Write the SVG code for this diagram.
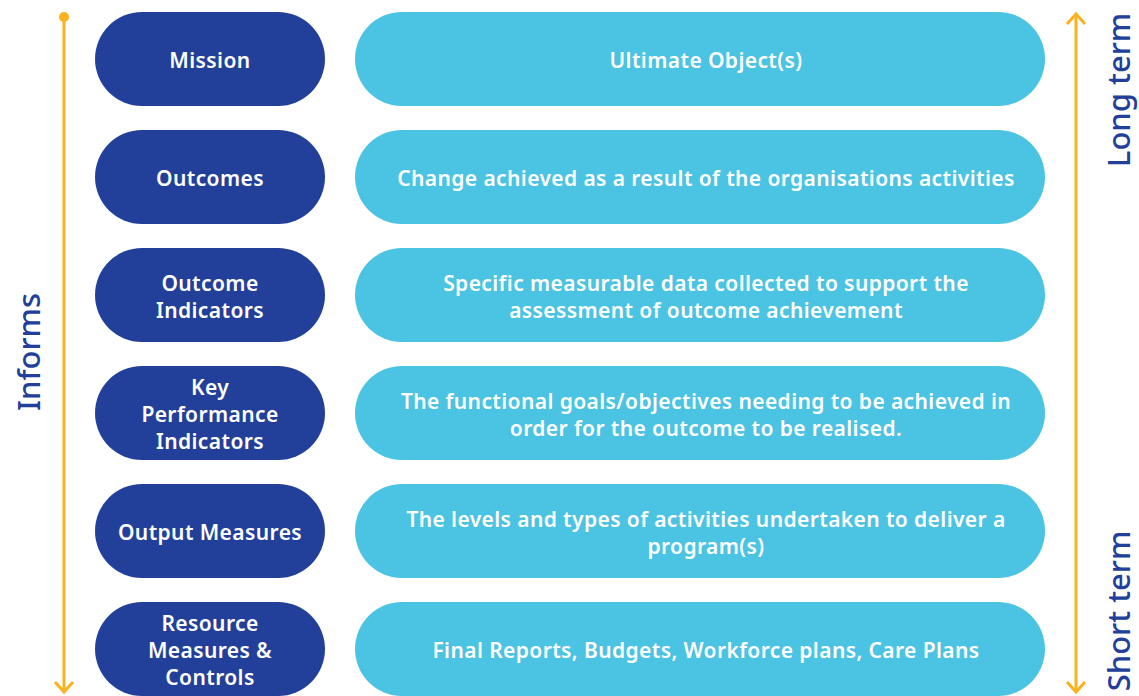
<svg xmlns="http://www.w3.org/2000/svg" width="1139" height="696" viewBox="0 0 1139 696">
<defs>
<style>
.l{fill:#22409A}
.r{fill:#4BC3E2}
.t{font-family:"Noto Sans","Liberation Sans",sans-serif;font-weight:600;font-size:21px;letter-spacing:0.4px;fill:#fff;text-anchor:middle;dominant-baseline:central}
.side{font-family:"Noto Sans","Liberation Sans",sans-serif;font-weight:500;font-size:31px;fill:#22409A;text-anchor:middle;dominant-baseline:central}
.ax{stroke:#FBB21F;stroke-width:3;fill:none}
</style>
</defs>
<rect width="1139" height="696" fill="#fff"/>
<g id="connectors">
<circle cx="64" cy="17" r="5" fill="#FBB21F"/>
<line class="ax" x1="64" y1="17" x2="64" y2="692"/>
<polyline class="ax" points="55,682 64,692 73,682"/>
<line class="ax" x1="1076" y1="14" x2="1076" y2="692"/>
<polyline class="ax" points="1067,24 1076,14 1085,24"/>
<polyline class="ax" points="1067,682 1076,692 1085,682"/>
</g>
<g id="informs"><text class="side" transform="translate(28,352) rotate(-90)">Informs</text></g>
<g id="longterm"><text class="side" transform="translate(1118,90) rotate(-90)">Long term</text></g>
<g id="shortterm"><text class="side" transform="translate(1118,611) rotate(-90)">Short term</text></g>

<g id="mission"><rect class="l" x="95" y="12" width="230" height="94" rx="47"/><text class="t" x="210" y="60">Mission</text></g>
<g id="mission-desc"><rect class="r" x="355" y="12" width="690" height="94" rx="47"/><text class="t" x="706" y="60">Ultimate Object(s)</text></g>

<g id="outcomes"><rect class="l" x="95" y="130" width="230" height="94" rx="47"/><text class="t" x="210" y="178">Outcomes</text></g>
<g id="outcomes-desc"><rect class="r" x="355" y="130" width="690" height="94" rx="47"/><text class="t" x="706" y="178">Change achieved as a result of the organisations activities</text></g>

<g id="outcome-indicators"><rect class="l" x="95" y="248" width="230" height="94" rx="47"/><text class="t" x="210" y="283">Outcome</text><text class="t" x="210" y="310">Indicators</text></g>
<g id="outcome-indicators-desc"><rect class="r" x="355" y="248" width="690" height="94" rx="47"/><text class="t" x="706" y="283">Specific measurable data collected to support the</text><text class="t" x="706" y="310">assessment of outcome achievement</text></g>

<g id="kpi"><rect class="l" x="95" y="366" width="230" height="94" rx="47"/><text class="t" x="210" y="387">Key</text><text class="t" x="210" y="414">Performance</text><text class="t" x="210" y="441">Indicators</text></g>
<g id="kpi-desc"><rect class="r" x="355" y="366" width="690" height="94" rx="47"/><text class="t" x="706" y="401">The functional goals/objectives needing to be achieved in</text><text class="t" x="706" y="428">order for the outcome to be realised.</text></g>

<g id="output-measures"><rect class="l" x="95" y="484" width="230" height="94" rx="47"/><text class="t" x="210" y="532">Output Measures</text></g>
<g id="output-measures-desc"><rect class="r" x="355" y="484" width="690" height="94" rx="47"/><text class="t" x="706" y="519">The levels and types of activities undertaken to deliver a</text><text class="t" x="706" y="546">program(s)</text></g>

<g id="resource-measures"><rect class="l" x="95" y="602" width="230" height="94" rx="47"/><text class="t" x="210" y="623">Resource</text><text class="t" x="210" y="650">Measures &amp;</text><text class="t" x="210" y="677">Controls</text></g>
<g id="resource-measures-desc"><rect class="r" x="355" y="602" width="690" height="94" rx="47"/><text class="t" x="706" y="650">Final Reports, Budgets, Workforce plans, Care Plans</text></g>
</svg>
